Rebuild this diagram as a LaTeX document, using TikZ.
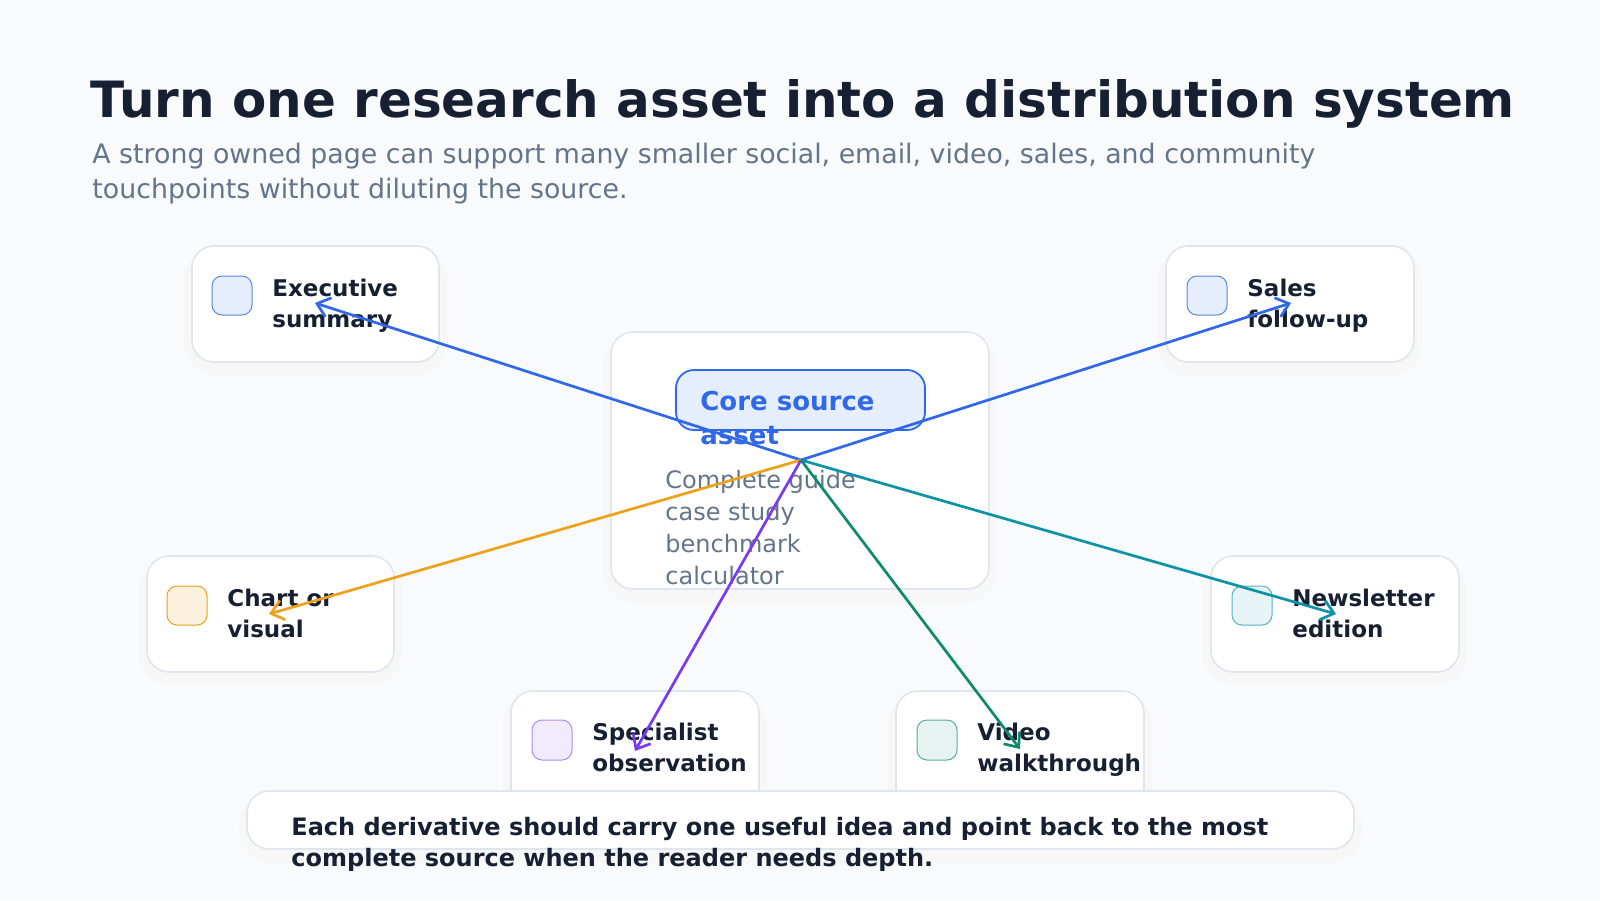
\documentclass[tikz,border=0pt]{standalone}
\usepackage{fontspec}
\setmainfont{DejaVu Sans}
\usetikzlibrary{arrows.meta}
\definecolor{bg}{HTML}{F8FAFC}
\definecolor{ink}{HTML}{172033}
\definecolor{sub}{HTML}{64748B}
\definecolor{bord}{HTML}{DFE6F0}
\definecolor{cblue}{HTML}{2F68E8}
\definecolor{corange}{HTML}{EEA21A}
\definecolor{cteal}{HTML}{0E92A8}
\definecolor{cpurple}{HTML}{7C3AED}
\definecolor{cgreen}{HTML}{0E8A6F}
\begin{document}
\begin{tikzpicture}[x=0.5pt,y=-0.5pt,
  card/.style={draw=bord,line width=0.8pt,fill=white,rounded corners=11pt},
  shadow/.style={fill=black!3,rounded corners=16pt},
  icon/.style={rounded corners=5pt,line width=0.5pt},
  lbl/.style={anchor=base west,inner sep=0pt,font=\fontsize{11.5}{15.5}\selectfont\bfseries,text=ink,align=left},
  item/.style={anchor=base west,inner sep=0pt,font=\fontsize{12}{16}\selectfont,text=sub},
  arr/.style={line width=1.35pt,-{Straight Barb[length=6pt,width=10pt]}}]
\fill[bg] (0,0) rectangle (1600,900);
\node[anchor=base west,inner sep=0pt,font=\fontsize{25}{28}\selectfont\bfseries,text=ink] (title) at (90,117) {Turn one research asset into a distribution system};
\node[anchor=base west,inner sep=0pt,font=\fontsize{13.4}{17.5}\selectfont,text=sub,align=left] (subt) at (92,198) {A strong owned page can support many smaller social, email, video, sales, and community\\touchpoints without diluting the source.};
% shadows
\foreach \a/\b/\c/\d in {192/246/439/362,1166/246/1414/362,147/556/394/672,1211/556/1459/672,511/691/759/806,896/691/1144/806,611/332/989/589}
  {\fill[shadow] (\a-8,\b+2) rectangle (\c+8,\d+14);}
% core
\draw[card] (611,332) rectangle (989,589);
\draw[cblue,fill=cblue!12,line width=0.9pt,rounded corners=9pt] (676,370) rectangle (925,430);
\node[anchor=base west,inner sep=0pt,font=\fontsize{13}{17}\selectfont\bfseries,text=cblue,align=left] (core) at (700,444) {Core source\\asset};
\node[item] (i1) at (665,488) {Complete guide};
\node[item] (i2) at (665,520) {case study};
\node[item] (i3) at (665,552) {benchmark};
\node[item] (i4) at (665,584) {calculator};
% cards
\draw[card] (192,246) rectangle (439,362);
\draw[icon,draw=cblue!80,fill=cblue!12] (212,276) rectangle (252,315);
\node[lbl] (exec) at (272,327) {Executive\\summary};
\draw[card] (1166,246) rectangle (1414,362);
\draw[icon,draw=cblue!80,fill=cblue!12] (1187,276) rectangle (1227,315);
\node[lbl] (sales) at (1247,327) {Sales\\follow-up};
\draw[card] (147,556) rectangle (394,672);
\draw[icon,draw=corange,fill=corange!15] (167,586) rectangle (207,625);
\node[lbl] (chart) at (227,637) {Chart or\\visual};
\draw[card] (1211,556) rectangle (1459,672);
\draw[icon,draw=cteal!70,fill=cteal!10] (1232,586) rectangle (1272,625);
\node[lbl] (news) at (1292,637) {Newsletter\\edition};
\draw[card] (511,691) rectangle (759,830);
\draw[icon,draw=cpurple!60,fill=cpurple!10] (532,720) rectangle (572,760);
\node[lbl] (spec) at (592,771) {Specialist\\observation};
\draw[card] (896,691) rectangle (1144,830);
\draw[icon,draw=cgreen!70,fill=cgreen!10] (917,720) rectangle (957,760);
\node[lbl] (video) at (977,771) {Video\\walkthrough};
% bottom
\fill[shadow] (239,793) rectangle (1362,863);
\draw[card] (247,791) rectangle (1354,849);
\node[anchor=base west,inner sep=0pt,font=\fontsize{12}{15.5}\selectfont\bfseries,text=ink,align=left] (note) at (291,866) {Each derivative should carry one useful idea and point back to the most\\complete source when the reader needs depth.};
% arrows
\coordinate (c) at (801,460);
\coordinate (eE) at (315,303);
\coordinate (eS) at (1291,303);
\coordinate (eC) at (269,614);
\coordinate (eN) at (1336,614);
\coordinate (eP) at (635,751);
\coordinate (eV) at (1020,749);
\draw[arr,cblue] (c) -- (eE);
\draw[arr,cblue] (c) -- (eS);
\draw[arr,corange] (c) -- (eC);
\draw[arr,cteal] (c) -- (eN);
\draw[arr,cpurple] (c) -- (eP);
\draw[arr,cgreen] (c) -- (eV);
\end{tikzpicture}
\end{document}
